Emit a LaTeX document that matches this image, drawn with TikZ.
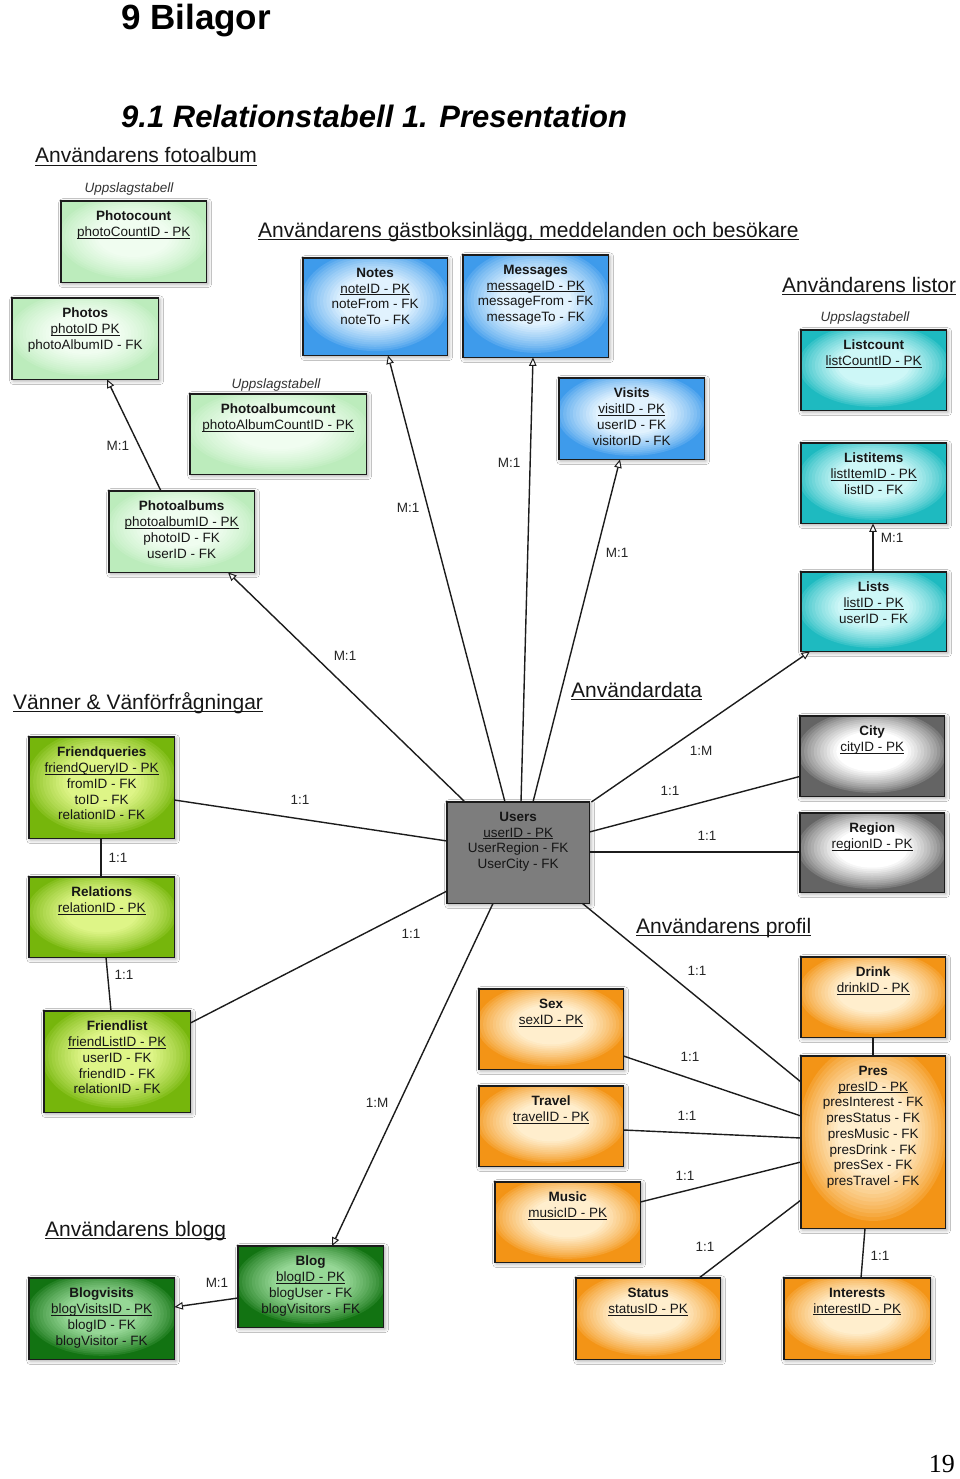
\documentclass[tikz,border=0pt]{standalone}
\usepackage{fontspec}
\setmainfont{Liberation Sans}
\newfontfamily\pgserif{Liberation Serif}
\usetikzlibrary{arrows.meta,calc,shadows.blur}

\definecolor{txt}{RGB}{22,22,22}
\definecolor{lnc}{RGB}{28,28,28}
\definecolor{pgO}{RGB}{188,236,188}\definecolor{pgI}{RGB}{240,253,240}
\definecolor{blO}{RGB}{62,155,235}\definecolor{blI}{RGB}{225,242,254}
\definecolor{cyO}{RGB}{30,186,192}\definecolor{cyI}{RGB}{205,247,247}
\definecolor{grO}{RGB}{100,100,100}\definecolor{grI}{RGB}{255,255,255}
\definecolor{usr}{RGB}{125,125,125}
\definecolor{lmO}{RGB}{118,182,12}\definecolor{lmI}{RGB}{222,245,135}
\definecolor{dgO}{RGB}{18,115,18}\definecolor{dgI}{RGB}{150,215,150}
\definecolor{orO}{RGB}{243,148,22}\definecolor{orI}{RGB}{255,238,205}

\newcommand\ulx[1]{\setbox0\hbox{#1}\rlap{\rule[-0.16em]{\wd0}{0.07em}}\box0}

\tikzset{
  boxbase/.style={inner sep=0pt, blur shadow={shadow xshift=1.5pt, shadow yshift=-1.5pt, shadow blur radius=4pt, shadow opacity=40}},
  bord/.style={draw=lnc, line width=1.7pt},
  tt/.style={text=txt, align=center, inner sep=0pt, font=\fontsize{13.5}{15.7}\selectfont},
  hdr/.style={anchor=base west, inner sep=0pt, text=txt, font=\fontsize{21}{25}\selectfont},
  upp/.style={anchor=base, inner sep=0pt, text=black!80, font=\fontsize{13.5}{16}\selectfont\itshape},
  lab/.style={inner sep=0pt, text=black!85, font=\fontsize{13.5}{15}\selectfont},
  con/.style={draw=lnc, line width=1.4pt},
  arr/.style={-{Triangle[fill=white,length=8.5pt,width=7.5pt,line width=1pt]}}
}

% name, outer colour, inner colour, x, y, w, h, text
\newcommand\tabl[8]{%
  \node[boxbase, fill=#2, anchor=north west, minimum width=#6pt, minimum height=#7pt] (#1) at (#4,#5) {};
  \begin{scope}
    \clip (#1.south west) rectangle (#1.north east);
    \foreach \k in {0,...,13}{%
      \pgfmathsetmacro\rr{1.08-0.58*\k/13}%
      \pgfmathtruncatemacro\pp{100*(\k/13)^0.75}%
      \fill[color=#3!\pp!#2] ($(#1.center)+(0,-0.06*#7)$) ellipse [x radius={\rr*#6*0.5pt}, y radius={\rr*#7*0.5pt}];
    }
  \end{scope}
  \draw[bord] (#1.south west) rectangle (#1.north east);
  \node[tt, anchor=north] (#1-t) at ([yshift=-10pt]#1.north) {#8};}

\begin{document}
\begin{tikzpicture}[x=1pt,y=-1pt]
\useasboundingbox[fill=white] (0,0) rectangle (960,1479);

% titles
\node[anchor=base west, inner sep=0pt, font=\fontsize{35}{40}\selectfont\bfseries] (t1) at (121,30) {9 Bilagor};
\node[anchor=base west, inner sep=0pt, font=\fontsize{31}{36}\selectfont\bfseries\itshape] (t2) at (121,128) {9.1 Relationstabell 1. Presentation};

% section headers
\node[hdr] (h1) at (35,163) {\ulx{Användarens fotoalbum}};
\node[hdr] (h2) at (258,237) {\ulx{Användarens gästboksinlägg, meddelanden och besökare}};
\node[hdr] (h3) at (782,292) {\ulx{Användarens listor}};
\node[hdr] (h4) at (13,709) {\ulx{Vänner \& Vänförfrågningar}};
\node[hdr] (h5) at (571,697) {\ulx{Användardata}};
\node[hdr] (h6) at (636,933) {\ulx{Användarens profil}};
\node[hdr] (h7) at (45,1236) {\ulx{Användarens blogg}};

% lookup labels
\node[upp] (u1) at (129,193) {Uppslagstabell};
\node[upp] (u2) at (276,388) {Uppslagstabell};
\node[upp] (u3) at (865,321) {Uppslagstabell};

% photo album tables
\tabl{photocount}{pgO}{pgI}{61}{201}{145}{81}{\textbf{Photocount}\\\ulx{photoCountID - PK}}
\tabl{photos}{pgO}{pgI}{12}{298}{146}{81}{\textbf{Photos}\\\ulx{photoID PK}\\photoAlbumID - FK}
\tabl{photoalbumcount}{pgO}{pgI}{190}{394}{176}{80}{\textbf{Photoalbumcount}\\\ulx{photoAlbumCountID - PK}}
\tabl{photoalbums}{pgO}{pgI}{109}{491}{145}{81}{\textbf{Photoalbums}\\\ulx{photoalbumID - PK}\\photoID - FK\\userID - FK}

% guestbook
\tabl{notes}{blO}{blI}{303}{258}{144}{97}{\textbf{Notes}\\\ulx{noteID - PK}\\noteFrom - FK\\noteTo - FK}
\tabl{messages}{blO}{blI}{463}{255}{145}{102}{\textbf{Messages}\\\ulx{messageID - PK}\\messageFrom - FK\\messageTo - FK}
\tabl{visits}{blO}{blI}{559}{378}{145}{81}{\textbf{Visits}\\\ulx{visitID - PK}\\userID - FK\\visitorID - FK}

% lists
\tabl{listcount}{cyO}{cyI}{801}{330}{145}{80}{\textbf{Listcount}\\\ulx{listCountID - PK}}
\tabl{listitems}{cyO}{cyI}{801}{443}{145}{80}{\textbf{Listitems}\\\ulx{listItemID - PK}\\listID - FK}
\tabl{lists}{cyO}{cyI}{801}{572}{145}{79}{\textbf{Lists}\\\ulx{listID - PK}\\userID - FK}

% user data
\tabl{users}{usr}{usr}{447}{802}{142}{101}{\textbf{Users}\\\ulx{userID - PK}\\UserRegion - FK\\UserCity - FK}
\tabl{city}{grO}{grI}{800}{716}{144}{80}{\textbf{City}\\\ulx{cityID - PK}}
\tabl{region}{grO}{grI}{800}{813}{144}{79}{\textbf{Region}\\\ulx{regionID - PK}}

% friends
\tabl{friendqueries}{lmO}{lmI}{29}{737}{145}{101}{\textbf{Friendqueries}\\\ulx{friendQueryID - PK}\\fromID - FK\\toID - FK\\relationID - FK}
\tabl{relations}{lmO}{lmI}{29}{877}{145}{80}{\textbf{Relations}\\\ulx{relationID - PK}}
\tabl{friendlist}{lmO}{lmI}{44}{1011}{146}{101}{\textbf{Friendlist}\\\ulx{friendListID - PK}\\userID - FK\\friendID - FK\\relationID - FK}

% blog
\tabl{blog}{dgO}{dgI}{238}{1246}{145}{81}{\textbf{Blog}\\\ulx{blogID - PK}\\blogUser - FK\\blogVisitors - FK}
\tabl{blogvisits}{dgO}{dgI}{29}{1278}{145}{81}{\textbf{Blogvisits}\\\ulx{blogVisitsID - PK}\\blogID - FK\\blogVisitor - FK}

% profile
\tabl{drink}{orO}{orI}{801}{957}{144}{80}{\textbf{Drink}\\\ulx{drinkID - PK}}
\tabl{pres}{orO}{orI}{801}{1056}{144}{172}{\textbf{Pres}\\\ulx{presID - PK}\\presInterest - FK\\presStatus - FK\\presMusic - FK\\presDrink - FK\\presSex - FK\\presTravel - FK}
\tabl{sex}{orO}{orI}{479}{989}{144}{80}{\textbf{Sex}\\\ulx{sexID - PK}}
\tabl{travel}{orO}{orI}{479}{1086}{144}{80}{\textbf{Travel}\\\ulx{travelID - PK}}
\tabl{music}{orO}{orI}{495}{1182}{145}{80}{\textbf{Music}\\\ulx{musicID - PK}}
\tabl{status}{orO}{orI}{576}{1278}{144}{81}{\textbf{Status}\\\ulx{statusID - PK}}
\tabl{interests}{orO}{orI}{784}{1278}{146}{81}{\textbf{Interests}\\\ulx{interestID - PK}}

% connectors
\draw[con,arr] ($(photoalbums.north west)+(52,0)$) -- ($(photos.south west)+(95,0)$);
\draw[con,arr] ($(users.north west)+(18,0)$) -- ($(photoalbums.south west)+(119,0)$);
\draw[con,arr] ($(users.north west)+(58,0)$) -- ($(notes.south west)+(85,0)$);
\draw[con,arr] ($(users.north west)+(74,0)$) -- ($(messages.south west)+(70,0)$);
\draw[con,arr] ($(users.north west)+(86,0)$) -- ($(visits.south west)+(61,0)$);
\draw[con,arr] ($(users.north east)+(2,0)$) -- ($(lists.south west)+(9,0)$);
\draw[con,arr] ($(lists.north west)+(72,0)$) -- ($(listitems.south west)+(72,0)$);
\draw[con] ($(users.north east)+(0,30)$) -- ($(city.south west)+(0,-20)$);
\draw[con] ($(users.north east)+(0,50)$) -- ($(region.north west)+(0,39)$);
\draw[con] ($(friendqueries.north east)+(0,63)$) -- ($(users.north west)+(0,39)$);
\draw[con] ($(friendqueries.south west)+(72,0)$) -- ($(relations.north west)+(72,0)$);
\draw[con] ($(relations.south west)+(77,0)$) -- ($(friendlist.north west)+(67,0)$);
\draw[con] ($(users.north west)+(0,89)$) -- ($(friendlist.north east)+(0,12)$);
\draw[con,arr] ($(users.south west)+(46,0)$) -- ($(blog.north west)+(94,0)$);
\draw[con,arr] ($(blog.north west)+(0,52)$) -- ($(blogvisits.north east)+(0,29)$);
\draw[con] ($(users.south east)+(-7,0)$) -- ($(pres.north west)+(0,26)$);
\draw[con] ($(drink.south west)+(72,0)$) -- ($(pres.north west)+(72,0)$);
\draw[con] ($(sex.north east)+(0,67)$) -- ($(pres.north west)+(0,60)$);
\draw[con] ($(travel.north east)+(0,44)$) -- ($(pres.north west)+(0,82)$);
\draw[con] ($(music.north east)+(0,20)$) -- ($(pres.north west)+(0,106)$);
\draw[con] ($(status.north west)+(123,0)$) -- ($(pres.north west)+(0,144)$);
\draw[con] ($(pres.south west)+(64,0)$) -- ($(interests.north west)+(77,0)$);

% connector labels
\node[lab] (l1) at (118,446) {M:1};
\node[lab] (l2) at (408,508) {M:1};
\node[lab] (l3) at (509,463) {M:1};
\node[lab] (l4) at (617,553) {M:1};
\node[lab] (l5) at (345,656) {M:1};
\node[lab] (l6) at (892,538) {M:1};
\node[lab] (l7) at (701,751) {1:M};
\node[lab] (l8) at (670,791) {1:1};
\node[lab] (l9) at (707,836) {1:1};
\node[lab] (l10) at (300,800) {1:1};
\node[lab] (l11) at (118,858) {1:1};
\node[lab] (l12) at (124,975) {1:1};
\node[lab] (l13) at (411,934) {1:1};
\node[lab] (l14) at (377,1103) {1:M};
\node[lab] (l15) at (217,1283) {M:1};
\node[lab] (l16) at (697,971) {1:1};
\node[lab] (l17) at (690,1057) {1:1};
\node[lab] (l18) at (687,1116) {1:1};
\node[lab] (l19) at (685,1176) {1:1};
\node[lab] (l20) at (705,1247) {1:1};
\node[lab] (l21) at (880,1256) {1:1};

% page number
\node[anchor=base east, inner sep=0pt, font=\fontsize{26}{30}\selectfont\pgserif] (pg) at (955,1472) {19};
\end{tikzpicture}
\end{document}
